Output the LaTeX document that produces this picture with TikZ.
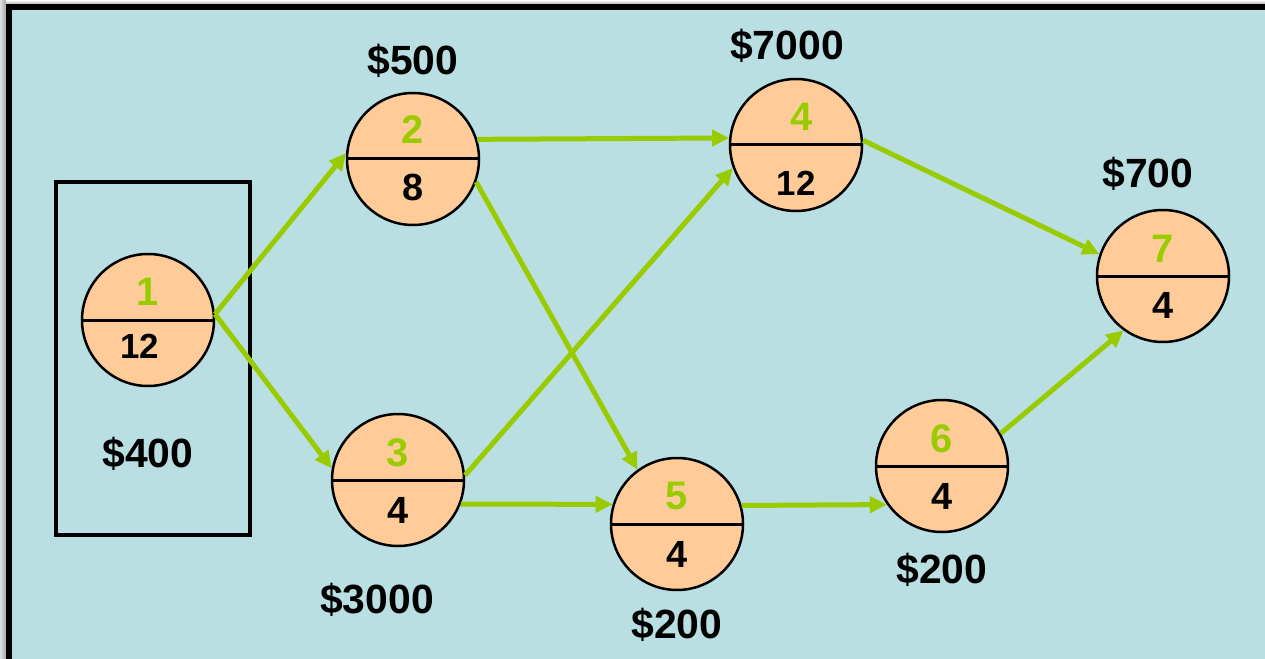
\documentclass[tikz,border=0pt]{standalone}
\usepackage{fontspec}
\setmainfont{Liberation Sans}
\usetikzlibrary{arrows.meta}
\definecolor{bgc}{HTML}{B9DFE2}
\definecolor{peach}{HTML}{FFCC99}
\definecolor{lgreen}{HTML}{99CC00}
\tikzset{
  evt/.style={circle, draw=black, line width=2.5bp, fill=peach, minimum size=132bp, inner sep=0pt},
  cost/.style={anchor=base, inner sep=0pt, font=\bfseries\fontsize{41}{41}\selectfont},
  topnum/.style={anchor=base, inner sep=0pt, text=lgreen, font=\bfseries\fontsize{40}{40}\selectfont},
  botnum/.style={anchor=base, inner sep=0pt, font=\bfseries\fontsize{38}{38}\selectfont},
  botnumsm/.style={anchor=base, inner sep=0pt, font=\bfseries\fontsize{35}{35}\selectfont},
  act/.style={draw=lgreen, line width=5bp, -{Triangle[length=17bp,width=16bp]}}
}
\begin{document}
\begin{tikzpicture}[x=1bp,y=-1bp]
\useasboundingbox (0,0) rectangle (1265,659);
% background and frame
\fill[bgc] (0,0) rectangle (1265,659);
\shade[left color=gray!25, right color=gray!70] (0,0) rectangle (6,659);
\shade[top color=white, bottom color=gray!60] (6,0) rectangle (1265,4);
\fill[black] (6,4) rectangle (1265,10);
\fill[black] (6,4) rectangle (12,659);
% box around node 1
\draw[line width=4.5bp] (56,182) rectangle (250,535);
% events
\node[evt] (n1) at (148,320) {};
\node[evt] (n2) at (413,159) {};
\node[evt] (n3) at (398,480) {};
\node[evt] (n4) at (796,145) {};
\node[evt] (n5) at (677,524) {};
\node[evt] (n6) at (942,466) {};
\node[evt] (n7) at (1163,276) {};
\foreach \n in {n1,n2,n3,n4,n5,n6,n7}{\draw[line width=3bp] (\n.west) -- (\n.east);}
% numbers
\node[topnum] (t1) at (148,305) {1};
\node[botnumsm] (b1) at (140,358) {12};
\node[topnum] (t2) at (413,144) {2};
\node[botnum] (b2) at (413,201) {8};
\node[topnum] (t3) at (398,466) {3};
\node[botnum] (b3) at (398,523) {4};
\node[topnum] (t4) at (802,131) {4};
\node[botnumsm] (b4) at (796,196) {12};
\node[topnum] (t5) at (677,509) {5};
\node[botnum] (b5) at (677,567) {4};
\node[topnum] (t6) at (942,452) {6};
\node[botnum] (b6) at (942,509) {4};
\node[topnum] (t7) at (1163,262) {7};
\node[botnum] (b7) at (1163,318) {4};
% costs
\node[cost] (c1) at (148,467) {\$400};
\node[cost] (c2) at (413,75) {\$500};
\node[cost] (c3) at (377,613) {\$3000};
\node[cost] (c4) at (787,60) {\$7000};
\node[cost] (c5) at (677,638) {\$200};
\node[cost] (c6) at (942,583) {\$200};
\node[cost] (c7) at (1148,188) {\$700};
% activities
\draw[act] (n1.5) -- (n2.175);
\draw[act] (n1.5) -- (n3.170);
\draw[act] (n2.17) -- (n4.174);
\draw[act] (n2.-20) -- (n5.126);
\draw[act] (n3.4) -- (n4.-160);
\draw[act] (n3.-21) -- (n5.163);
\draw[act] (n4.4) -- (n7.161);
\draw[act] (n5.16) -- (n6.-145);
\draw[act] (n6.29) -- (n7.-126);
\end{tikzpicture}
\end{document}
